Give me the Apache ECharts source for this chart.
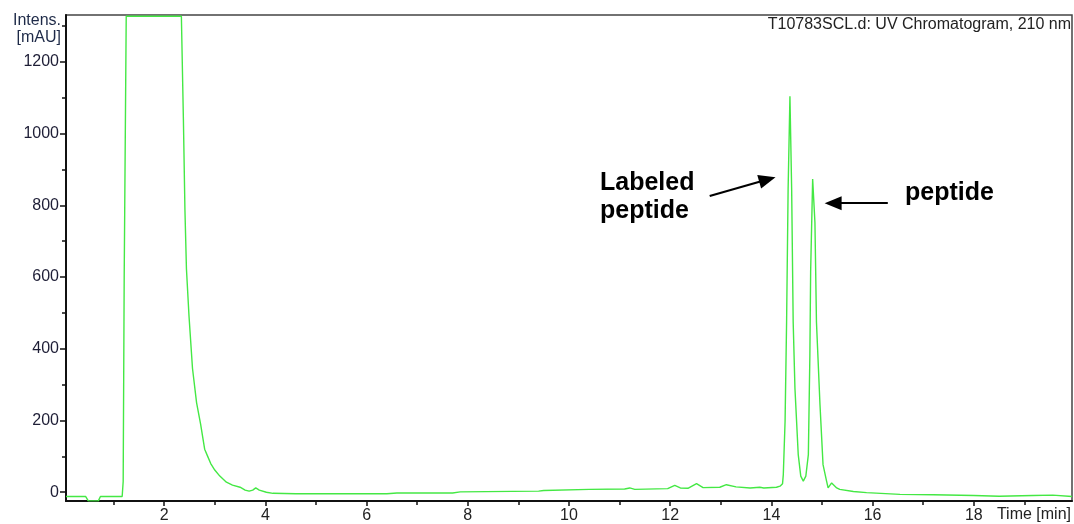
<!DOCTYPE html>
<html>
<head>
<meta charset="utf-8">
<script src="https://cdn.jsdelivr.net/npm/echarts@6/dist/echarts.min.js"></script>
<style>
html,body{margin:0;padding:0;background:#fff;}
#chart{width:1074px;height:524px;}
</style>
</head>
<body>
<div id="chart"></div>
<script>
// Retention time (min)
const times = [
  0.06, 0.45, 0.50, 0.70, 0.74, 1.17, 1.19, 1.21, 1.25, 2.34,
  2.38, 2.41, 2.44, 2.49, 2.56, 2.64, 2.72, 2.80, 2.86, 2.92,
  3.00, 3.10, 3.23, 3.35, 3.50, 3.60, 3.68, 3.75, 3.81, 3.88,
  4.02, 4.15, 4.60, 5.50, 6.40, 6.60, 7.70, 7.85, 9.40, 9.50,
  10.40, 11.10, 11.20, 11.30, 11.95, 12.09, 12.20, 12.35, 12.52, 12.65,
  12.98, 13.11, 13.30, 13.58, 13.77, 13.85, 14.10, 14.17, 14.22, 14.235,
  14.27, 14.30, 14.33, 14.366, 14.40, 14.43, 14.465, 14.53, 14.58, 14.63,
  14.68, 14.73, 14.76, 14.775, 14.815, 14.86, 14.89, 14.96, 15.02, 15.09,
  15.12, 15.19, 15.29, 15.35, 15.62, 15.88, 16.54, 17.20, 18.00, 18.50,
  19.17, 19.56, 19.94
];
// UV intensity (mAU); 1327 = detector trace clipped at the top of the plot
const intensity = [
  -12, -12, -24, -24, -12, -12, 30, 600, 1327, 1327,
  1039, 789, 623, 493, 345, 250, 190, 120, 100, 80,
  62, 45, 28, 20, 14, 6, 3, 6, 12, 6,
  0, -3, -4, -4, -4, -2, -2, 1, 3, 5,
  8, 9, 12, 8, 10, 19, 12, 11, 24, 13,
  14, 21, 15, 12, 14, 12, 14, 17, 24, 49,
  198, 475, 845, 1104, 845, 475, 290, 105, 45, 31,
  45, 105, 382, 614, 873, 752, 475, 244, 77, 31,
  12, 26, 12, 8, 2, -1, -6, -7, -9, -11,
  -9, -8, -12
];
const yTickLabels = [0, 200, 400, 600, 800, 1000, 1200];
const yMinorTicks = [100, 300, 500, 700, 900, 1100, 1300];
const xTickLabels = [2, 4, 6, 8, 10, 12, 14, 16, 18];
const xMinorTicks = [1, 3, 5, 7, 9, 11, 13, 15, 17, 19];
const xRange = [0.06, 19.94];
const yRange = [-24.4, 1330.6];
// Annotation arrows in data coordinates: [from, to]
const arrowLabeled = [[12.78, 826], [13.92, 872]];
const arrowPeptide = [[16.30, 806], [15.22, 806]];

const FONT = 'Liberation Sans, Arial, Helvetica, sans-serif';
const chart = echarts.init(document.getElementById('chart'), null, {renderer: 'canvas'});

const data = times.map((t, i) => [t, intensity[i]]);

function baseX(showLine) {
  return {
    type: 'value', min: xRange[0], max: xRange[1], gridIndex: 0, position: 'bottom', offset: 0,
    axisLine: {show: showLine, onZero: false, lineStyle: {color: '#111', width: 2}},
    splitLine: {show: false}
  };
}

const option = {
  animation: false,
  backgroundColor: '#fff',
  grid: {left: 66, right: 2, top: 15, bottom: 21, show: true, borderColor: '#444', borderWidth: 1.5, backgroundColor: 'transparent'},
  xAxis: [
    Object.assign(baseX(true), {
      axisTick: {show: true, customValues: xTickLabels, length: 5, inside: false, lineStyle: {color: '#111', width: 1.5}},
      axisLabel: {show: true, customValues: xTickLabels, margin: 7, fontSize: 16, color: '#222', fontFamily: FONT,
        formatter: v => String(v)}
    }),
    Object.assign(baseX(false), {
      axisTick: {show: true, customValues: xMinorTicks, length: 4, inside: false, lineStyle: {color: '#111', width: 1.5}},
      axisLabel: {show: false}
    })
  ],
  yAxis: [
    {
      type: 'value', min: yRange[0], max: yRange[1], position: 'left', offset: 0,
      axisLine: {show: true, onZero: false, lineStyle: {color: '#111', width: 2}},
      axisTick: {show: true, customValues: yTickLabels, length: 6, lineStyle: {color: '#111', width: 1.5}},
      axisLabel: {show: true, customValues: yTickLabels, margin: 7, fontSize: 16, color: '#1e1e36', fontFamily: FONT,
        formatter: v => String(v)},
      splitLine: {show: false}
    },
    {
      type: 'value', min: yRange[0], max: yRange[1], position: 'left', offset: 0,
      axisLine: {show: false, onZero: false},
      axisTick: {show: true, customValues: yMinorTicks, length: 4, lineStyle: {color: '#111', width: 1.5}},
      axisLabel: {show: false},
      splitLine: {show: false}
    }
  ],
  series: [
    {
      type: 'line',
      data: data,
      xAxisIndex: 0, yAxisIndex: 0,
      showSymbol: false,
      clip: true,
      lineStyle: {color: '#44e844', width: 1.4},
      itemStyle: {color: '#44e844'},
      markLine: {
        silent: true,
        symbol: ['none', 'triangle'],
        symbolSize: [14, 17],
        lineStyle: {color: '#000', width: 2.2, type: 'solid'},
        itemStyle: {color: '#000'},
        label: {show: false},
        emphasis: {disabled: true},
        data: [
          [{coord: arrowLabeled[0]}, {coord: arrowLabeled[1]}],
          [{coord: arrowPeptide[0]}, {coord: arrowPeptide[1]}]
        ]
      }
    }
  ],
  graphic: [
    {type: 'text', x: 1071, y: 17, style: {text: 'T10783SCL.d: UV Chromatogram, 210 nm', font: '16px ' + FONT, fill: '#222', align: 'right', verticalAlign: 'top'}},
    {type: 'text', x: 61, y: 13, style: {text: 'Intens.', font: '16px ' + FONT, fill: '#1e2a48', align: 'right', verticalAlign: 'top'}},
    {type: 'text', x: 61, y: 30, style: {text: '[mAU]', font: '16px ' + FONT, fill: '#1e2a48', align: 'right', verticalAlign: 'top'}},
    {type: 'text', x: 1071, y: 507, style: {text: 'Time [min]', font: '16px ' + FONT, fill: '#222', align: 'right', verticalAlign: 'top'}},
    {type: 'text', x: 600, y: 169, style: {text: 'Labeled\npeptide', font: 'bold 25px ' + FONT, lineHeight: 28, fill: '#000', verticalAlign: 'top'}},
    {type: 'text', x: 905, y: 179, style: {text: 'peptide', font: 'bold 25px ' + FONT, lineHeight: 28, fill: '#000', verticalAlign: 'top'}}
  ]
};
chart.setOption(option);
</script>
</body>
</html>
